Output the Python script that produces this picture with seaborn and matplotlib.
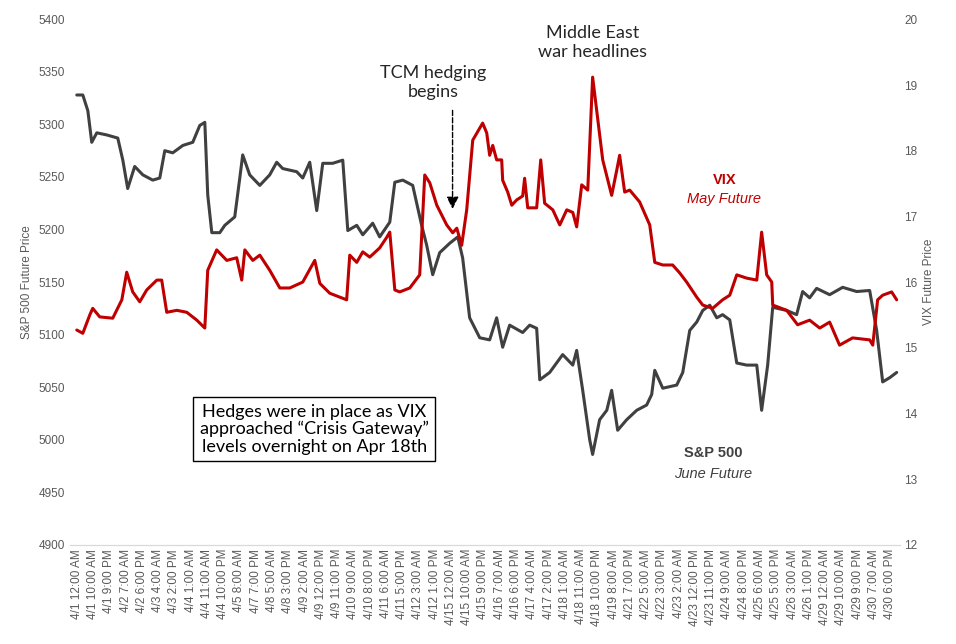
import numpy as np
import pandas as pd
import matplotlib
matplotlib.use("Agg")
from matplotlib import pyplot as plt
import seaborn as sb

# x positions in units of category-axis tick labels
tick_labels = ["4/1 12:00 AM", "4/1 10:00 AM", "4/1 9:00 PM", "4/2 7:00 AM", "4/2 6:00 PM",
               "4/3 4:00 AM", "4/3 2:00 PM", "4/4 1:00 AM", "4/4 11:00 AM", "4/4 10:00 PM",
               "4/5 8:00 AM", "4/7 7:00 PM", "4/8 5:00 AM", "4/8 3:00 PM", "4/9 2:00 AM",
               "4/9 12:00 PM", "4/9 11:00 PM", "4/10 9:00 AM", "4/10 8:00 PM", "4/11 6:00 AM",
               "4/11 5:00 PM", "4/12 3:00 AM", "4/12 1:00 PM", "4/15 12:00 AM", "4/15 10:00 AM",
               "4/15 9:00 PM", "4/16 7:00 AM", "4/16 6:00 PM", "4/17 4:00 AM", "4/17 2:00 PM",
               "4/18 1:00 AM", "4/18 11:00 AM", "4/18 10:00 PM", "4/19 8:00 AM", "4/21 7:00 PM",
               "4/22 5:00 AM", "4/22 3:00 PM", "4/23 2:00 AM", "4/23 12:00 PM", "4/23 11:00 PM",
               "4/24 9:00 AM", "4/24 8:00 PM", "4/25 6:00 AM", "4/25 5:00 PM", "4/26 3:00 AM",
               "4/26 1:00 PM", "4/29 12:00 AM", "4/29 10:00 AM", "4/29 9:00 PM", "4/30 7:00 AM",
               "4/30 6:00 PM"]

spx_t = [0, 0.37, 0.68, 0.92, 1.23, 1.84, 2.52, 2.83, 3.13, 3.56, 4.06, 4.67, 5.10, 5.41,
         5.90, 6.52, 7.13, 7.56, 7.87, 8.05, 8.30, 8.79, 9.10, 9.71, 10.02, 10.20, 10.63,
         11.25, 11.86, 12.29, 12.66, 13.52, 13.89, 14.32, 14.75, 15.12, 15.73, 16.35, 16.66,
         17.21, 17.58, 18.19, 18.62, 19.24, 19.55, 20.04, 20.65, 21.20, 21.51, 21.88, 22.31,
         22.93, 23.42, 23.72, 24.15, 24.77, 25.38, 25.81, 26.18, 26.61, 27.41, 27.84, 28.27,
         28.46, 29.07, 29.87, 30.49, 30.73, 31.10, 31.53, 31.71, 32.14, 32.58, 32.88, 33.25,
         33.80, 34.42, 35.03, 35.34, 35.53, 36.02, 36.88, 37.25, 37.68, 38.11, 38.48, 38.91,
         39.34, 39.70, 40.14, 40.57, 41.18, 41.80, 42.10, 42.47, 42.78, 43.64, 44.25, 44.62,
         45.05, 45.48, 46.28, 47.08, 47.94, 48.74, 49.17, 49.54, 49.97, 50.40]
spx = [5328, 5328, 5313, 5283, 5292, 5290, 5287, 5266, 5239, 5260, 5252, 5247, 5249, 5275,
       5273, 5280, 5283, 5299, 5302, 5233, 5197, 5197, 5204, 5212, 5249, 5271, 5252,
       5242, 5252, 5264, 5258, 5255, 5249, 5264, 5218, 5263, 5263, 5266, 5199,
       5204, 5195, 5206, 5193, 5207, 5245, 5247, 5242, 5204, 5185, 5157, 5178,
       5187, 5193, 5173, 5116, 5097, 5095, 5116, 5088, 5109, 5102, 5109, 5106,
       5057, 5064, 5081, 5071, 5085, 5047, 5000, 4986, 5019, 5028, 5047, 5009,
       5019, 5028, 5033, 5043, 5066, 5049, 5052, 5064, 5104, 5112, 5123, 5128,
       5116, 5119, 5114, 5073, 5071, 5071, 5028, 5071, 5126, 5123, 5119, 5141,
       5135, 5144, 5138, 5145, 5141, 5142, 5104, 5055, 5059, 5064]

vix_t = [0, 0.37, 0.80, 0.98, 1.41, 2.21, 2.77, 3.07, 3.44, 3.87, 4.30, 4.92, 5.22, 5.53,
         6.15, 6.76, 7.38, 7.87, 8.05, 8.60, 9.22, 9.83, 10.14, 10.33, 10.82, 11.25, 11.86,
         12.48, 13.09, 13.89, 14.63, 14.94, 15.55, 16.59, 16.78, 17.21, 17.58, 18.01, 18.62,
         19.05, 19.24, 19.55, 19.85, 20.47, 21.08, 21.39, 21.70, 22.13, 22.74, 23.11, 23.36,
         23.66, 23.97, 24.34, 24.95, 25.20, 25.38, 25.57, 25.81, 26.12, 26.18, 26.49, 26.74,
         27.04, 27.41, 27.53, 27.72, 28.27, 28.52, 28.76, 29.26, 29.69, 30.12, 30.49, 30.73,
         31.04, 31.41, 31.71, 32.02, 32.33, 32.88, 33.19, 33.37, 33.68, 33.99, 34.60, 35.22,
         35.53, 36.02, 36.63, 37.06, 37.49, 38.11, 38.48, 39.09, 39.70, 40.14, 40.57, 41.18,
         41.80, 42.10, 42.41, 42.72, 42.78, 43.64, 44.31, 45.05, 45.67, 46.28, 46.89, 47.69,
         48.74, 48.93, 49.23, 49.54, 50.09, 50.40]
vix = [15.27, 15.22, 15.50, 15.60, 15.47, 15.45, 15.73, 16.15, 15.85, 15.70, 15.88, 16.03, 16.03, 15.54,
       15.57, 15.54, 15.42, 15.30, 16.18, 16.49, 16.33, 16.37, 16.03, 16.49, 16.33, 16.41, 16.18,
       15.91, 15.91, 16.00, 16.33, 15.98, 15.83, 15.73, 16.41, 16.30, 16.46, 16.38, 16.52,
       16.68, 16.76, 15.88, 15.85, 15.91, 16.11, 17.63, 17.51, 17.17, 16.87, 16.75, 16.82,
       16.56, 17.10, 18.16, 18.42, 18.27, 17.93, 18.08, 17.86, 17.86, 17.55, 17.37, 17.17,
       17.25, 17.31, 17.58, 17.13, 17.13, 17.86, 17.20, 17.10, 16.87, 17.10, 17.06, 16.84,
       17.48, 17.40, 19.12, 18.49, 17.86, 17.32, 17.70, 17.93, 17.37, 17.40, 17.22, 16.87,
       16.30, 16.26, 16.26, 16.14, 16.00, 15.77, 15.65, 15.60, 15.73, 15.80, 16.11, 16.06,
       16.03, 16.76, 16.11, 16.00, 15.65, 15.57, 15.35, 15.42, 15.30, 15.39, 15.04, 15.15,
       15.12, 15.04, 15.73, 15.80, 15.85, 15.73]

df_spx = pd.DataFrame({"t": spx_t, "price": spx})
df_vix = pd.DataFrame({"t": vix_t, "price": vix})

sb.set_style('white')
plt.rcParams['font.family'] = ['Liberation Sans', 'DejaVu Sans']

fig = plt.figure(figsize=(9.56, 6.44), dpi=100)
ax = fig.add_axes([0.073, 0.154, 0.868, 0.816])
ax2 = ax.twinx()

sb.lineplot(x="t", y="price", data=df_spx, color="#404040", lw=2.2, ax=ax)
sb.lineplot(x="t", y="price", data=df_vix, color="#c00000", lw=2.2, ax=ax2)

ax.set_xlim(-0.43, 50.58)
ax.set_ylim(4900, 5400)
ax2.set_ylim(12, 20)
ax.set_yticks(np.arange(4900, 5401, 50))
ax2.set_yticks(np.arange(12, 21, 1))
ax.set_xticks(range(len(tick_labels)))
ax.set_xticklabels(tick_labels, rotation=90, fontsize=8.5, color="#595959")
ax.tick_params(axis='y', labelsize=8.5, labelcolor="#595959", length=0)
ax2.tick_params(axis='y', labelsize=8.5, labelcolor="#595959", length=0)
ax.tick_params(axis='x', length=0, pad=3)
ax.set_xlabel("")
ax.set_ylabel("S&P 500 Future Price", fontsize=8.5, color="#595959")
ax2.set_ylabel("VIX Future Price", fontsize=8.5, color="#595959")
for a in (ax, ax2):
    for s in ("top", "left", "right"):
        a.spines[s].set_visible(False)
    a.spines["bottom"].set_color("#d9d9d9")

hand = ['Lato', 'DejaVu Sans']
ax.text(31.7, 5378, "Middle East\nwar headlines", ha="center", va="center",
        fontsize=13, family=hand, color="#262626")
ax.text(21.9, 5340, "TCM hedging\nbegins", ha="center", va="center",
        fontsize=13, family=hand, color="#262626")
ax.annotate("", xy=(23.1, 5217), xytext=(23.1, 5316),
            arrowprops=dict(arrowstyle="-|>", linestyle="--", color="black",
                            lw=1, mutation_scale=18))
ax.text(14.6, 5010, "Hedges were in place as VIX\napproached \u201cCrisis Gateway\u201d\nlevels overnight on Apr 18th",
        ha="center", va="center", fontsize=13, family=hand, color="black",
        linespacing=1.1,
        bbox=dict(boxstyle="square,pad=0.35", fc="white", ec="black", lw=1))
ax2.text(39.8, 17.55, "VIX", ha="center", va="center", fontsize=10.5,
         fontweight="bold", color="#c00000")
ax2.text(39.8, 17.26, "May Future", ha="center", va="center", fontsize=10.5,
         style="italic", color="#c00000")
ax.text(39.1, 4987, "S&P 500", ha="center", va="center", fontsize=10.5,
        fontweight="bold", color="#404040")
ax.text(39.1, 4967, "June Future", ha="center", va="center", fontsize=10.5,
        style="italic", color="#404040")

plt.savefig('out.png', dpi=100)
